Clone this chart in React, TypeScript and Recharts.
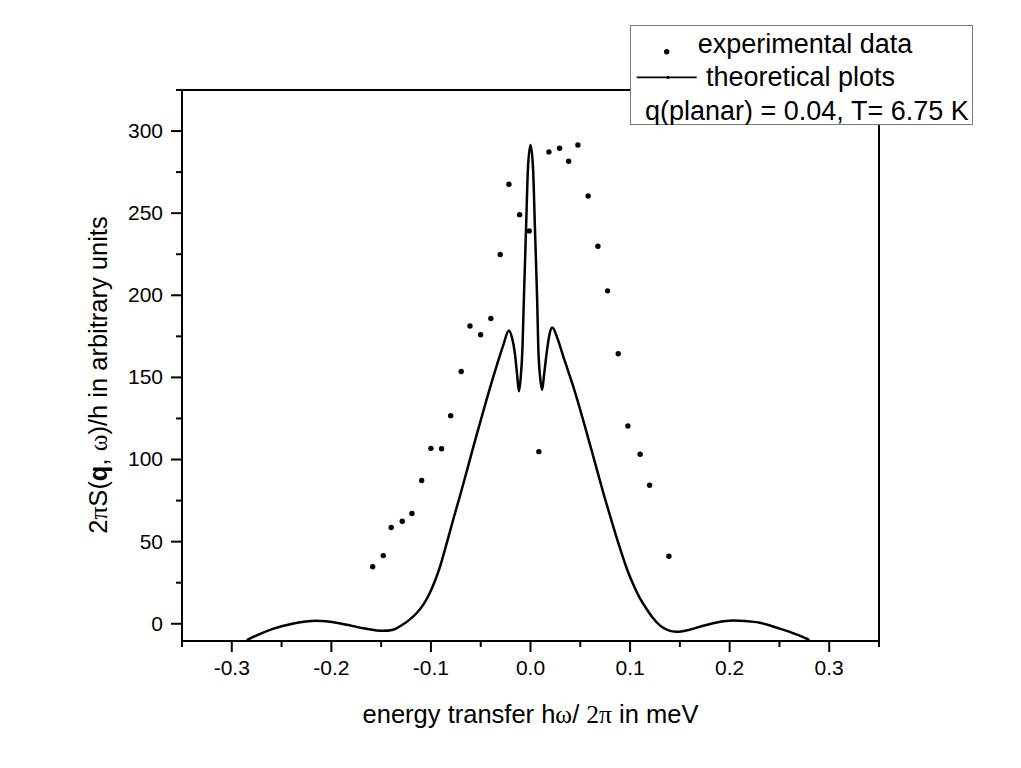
import React from 'react';
import { ComposedChart, Line, Scatter, XAxis, YAxis, ReferenceLine, Label } from 'recharts';

// experimental points (energy in meV, intensity in arbitrary units)
const expEnergy = [
  -0.1585, -0.1479, -0.1399, -0.1288, -0.1191, -0.1093, -0.1, -0.0893, -0.0802, -0.0696,
  -0.0608, -0.0501, -0.0398, -0.0304, -0.0217, -0.0109, -0.0013, 0.0084, 0.0185, 0.0292,
  0.0383, 0.0476, 0.0579, 0.0677, 0.0774, 0.0881, 0.0978, 0.1101, 0.1196, 0.139,
];
const expIntensity = [
  34.7, 41.5, 58.6, 62.4, 67.1, 87.2, 106.8, 106.6, 126.7, 153.6,
  181.3, 176.0, 185.9, 224.8, 267.6, 249.1, 239.2, 104.8, 287.3, 289.5,
  281.6, 291.5, 260.5, 229.9, 202.7, 164.4, 120.4, 103.2, 84.3, 41.1,
];

// theoretical curve
const theoryEnergy = [
  -0.285, -0.272, -0.258, -0.238, -0.215, -0.191, -0.168, -0.148, -0.138, -0.131,
  -0.122, -0.114, -0.107, -0.101, -0.096, -0.091, -0.086, -0.0776, -0.071, -0.0642,
  -0.0541, -0.0441, -0.034, -0.0274, -0.0217, -0.0185, -0.0157, -0.0135, -0.0116, -0.0098,
  -0.008, -0.0067, -0.0045, -0.0025, 0, 0.0025, 0.0045, 0.0067, 0.0078, 0.0097,
  0.0117, 0.0137, 0.0162, 0.019, 0.0218, 0.0275, 0.0328, 0.038, 0.0429, 0.0529,
  0.063, 0.073, 0.083, 0.088, 0.0931, 0.098, 0.1031, 0.109, 0.1166, 0.123,
  0.1299, 0.138, 0.1467, 0.158, 0.1701, 0.187, 0.2035, 0.227, 0.2504, 0.265,
  0.2772, 0.28,
];
const theoryIntensity = [
  -10, -6.3, -3, 0.2, 1.8, 0.2, -2.7, -4.3, -3.6, -1.5,
  2.2, 6.7, 12.3, 18.9, 26, 34.5, 45, 63.5, 77.5, 92.5,
  115, 136.5, 157, 169.5, 178.6, 174, 164.8, 152, 141.5, 150,
  168.9, 197, 240, 278, 291.5, 278, 240, 197, 168.9, 150,
  142.5, 152, 164.8, 176, 180.4, 173, 163, 153.5, 144.5, 124,
  102, 80, 59.5, 49.5, 40, 31.5, 24, 16.5, 9, 3.5,
  -1, -3.9, -4.9, -3.9, -1.8, 0.8, 2, 1, -3, -6,
  -9.1, -10,
];

const xTicks = [-0.35, -0.3, -0.25, -0.2, -0.15, -0.1, -0.05, 0, 0.05, 0.1, 0.15, 0.2, 0.25, 0.3, 0.35];
const yTicks = [0, 25, 50, 75, 100, 125, 150, 175, 200, 225, 250, 275, 300, 325];

const SANS = '"Liberation Sans", Arial, sans-serif';
const SERIF = '"Liberation Serif", "Times New Roman", serif';

const expRows = expEnergy.map((x, i) => ({ x, y: expIntensity[i] }));
const theoryRows = theoryEnergy.map((x, i) => ({ x, y: theoryIntensity[i] }));

function XTick({ x, y, payload }: any) {
  const v = payload.value;
  const major = Math.abs(Math.round(v * 100)) % 10 === 0;
  return (
    <g>
      <line x1={x} x2={x} y1={y} y2={y + (major ? 11 : 6)} stroke="#000" strokeWidth={2} />
      {major && (
        <text x={x} y={y + 34} textAnchor="middle" fontSize={21} fontFamily={SANS} fill="#000">
          {v.toFixed(1)}
        </text>
      )}
    </g>
  );
}

function YTick({ x, y, payload }: any) {
  const v = payload.value;
  const major = v % 50 === 0;
  return (
    <g>
      <line x1={x - (major ? 11 : 6)} x2={x} y1={y} y2={y} stroke="#000" strokeWidth={2} />
      {major && (
        <text x={x - 19} y={y} dy="0.33em" textAnchor="end" fontSize={21} fontFamily={SANS} fill="#000">
          {v}
        </text>
      )}
    </g>
  );
}

function XTitle({ viewBox }: any) {
  const cx = viewBox.x + viewBox.width / 2;
  return (
    <text x={cx} y={viewBox.y + 82} textAnchor="middle" fontSize={25.5} fontFamily={SANS} fill="#000">
      energy transfer h<tspan fontFamily={SERIF}>ω</tspan>/ <tspan fontFamily={SERIF}>2π</tspan> in meV
    </text>
  );
}

function YTitle({ viewBox }: any) {
  const cy = viewBox.y + viewBox.height / 2 + 9.5;
  return (
    <text
      transform={`translate(${viewBox.x - 15}, ${cy}) rotate(-90)`}
      textAnchor="middle"
      fontSize={25.5}
      fontFamily={SANS}
      fill="#000"
    >
      2<tspan fontFamily={SERIF}>π</tspan>S(<tspan fontWeight="bold">q</tspan>,{' '}
      <tspan fontFamily={SERIF}>ω</tspan>)/h in arbitrary units
    </text>
  );
}

function LegendBox() {
  return (
    <div
      style={{
        position: 'absolute',
        left: 630,
        top: 25,
        width: 343,
        height: 100,
        boxSizing: 'border-box',
        border: '1.5px solid #7a7a7a',
        background: '#fff',
        zIndex: 2,
      }}
    >
      <svg width={343} height={100} style={{ position: 'absolute', left: -1.5, top: -1.5 }}>
        <circle cx={36.7} cy={26.7} r={2.7} fill="#000" />
        <text x={67.7} y={28} fontSize={27} fontFamily={SANS} fill="#000">experimental data</text>
        <line x1={6.7} x2={66.7} y1={52.3} y2={52.3} stroke="#000" strokeWidth={1.8} />
        <circle cx={38} cy={52.3} r={1.6} fill="#000" />
        <text x={76} y={61} fontSize={27} fontFamily={SANS} fill="#000">theoretical plots</text>
        <text x={15} y={95} fontSize={27} fontFamily={SANS} fill="#000">q(planar) = 0.04, T= 6.75 K</text>
      </svg>
    </div>
  );
}

export default function App() {
  return (
    <div style={{ position: 'fixed', left: 0, top: 0, width: 1021, height: 768, background: '#fff' }}>
      <ComposedChart width={1021} height={768} margin={{ top: 90, right: 142, left: 122, bottom: 67 }}>
        <XAxis
          dataKey="x"
          type="number"
          domain={[-0.35, 0.35]}
          ticks={xTicks}
          interval={0}
          allowDataOverflow
          height={60}
          tickLine={false}
          tickSize={0}
          tickMargin={0}
          axisLine={{ stroke: '#000', strokeWidth: 2 }}
          tick={<XTick />}
        >
          <Label content={<XTitle />} />
        </XAxis>
        <YAxis
          type="number"
          domain={[-10.5, 325]}
          ticks={yTicks}
          interval={0}
          allowDataOverflow
          width={60}
          tickLine={false}
          tickSize={0}
          tickMargin={0}
          axisLine={{ stroke: '#000', strokeWidth: 2 }}
          tick={<YTick />}
        >
          <Label content={<YTitle />} />
        </YAxis>
        <ReferenceLine y={325} stroke="#000" strokeWidth={2} />
        <ReferenceLine x={0.35} stroke="#000" strokeWidth={2} />
        <Line
          data={theoryRows}
          dataKey="y"
          type="monotone"
          stroke="#000"
          strokeWidth={2.5}
          dot={false}
          isAnimationActive={false}
        />
        <Scatter
          data={expRows}
          dataKey="y"
          fill="#000"
          isAnimationActive={false}
          shape={(p: any) => <circle cx={p.cx} cy={p.cy} r={2.7} fill="#000" />}
        />
      </ComposedChart>
      <LegendBox />
    </div>
  );
}
